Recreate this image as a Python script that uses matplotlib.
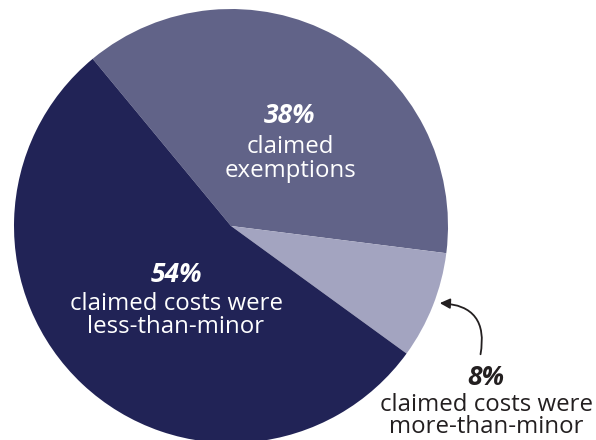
import matplotlib
matplotlib.use("Agg")
import matplotlib.pyplot as plt
from matplotlib.patches import FancyArrowPatch

# Data
categories = ["claimed exemptions", "claimed costs were more-than-minor", "claimed costs were less-than-minor"]
values = [38, 8, 54]
pct_labels = ["38%", "8%", "54%"]
colors = ["#616388", "#a3a4c0", "#212356"]

W, H = 596, 440
fig = plt.figure(figsize=(W / 100, H / 100), dpi=100)
ax = fig.add_axes([0, 0, 1, 1])

cx, cy, r = 231, H - 226, 217
ax.pie(values, colors=colors, startangle=129.6, counterclock=False,
       center=(cx, cy), radius=r, wedgeprops=dict(linewidth=0), frame=False)
ax.set_xlim(0, W)
ax.set_ylim(0, H)
ax.set_aspect("equal")
ax.axis("off")

fam = ["Open Sans", "DejaVu Sans"]
big = 19
small = 17.3

def block(x, y_pct, y_last, ls, pct, l1, l2, color):
    ax.text(x, H - y_pct, pct, ha="center", va="baseline", fontsize=big,
            fontweight="bold", fontstyle="italic", color=color, family=fam)
    ax.text(x, H - y_last, l1 + "\n" + l2, ha="center", va="baseline",
            multialignment="center", fontsize=small, linespacing=ls,
            color=color, family=fam)

block(290, 123, 177, 1.0, pct_labels[0], "claimed", "exemptions", "white")
block(176, 282, 333, 0.95, pct_labels[2], "claimed costs were", "less-than-minor", "white")
block(486, 385, 433, 0.9, pct_labels[1], "claimed costs were", "more-than-minor", "#231f20")

arrow = FancyArrowPatch((480, H - 357), (437, H - 303),
                        connectionstyle="arc3,rad=0.6",
                        arrowstyle="-|>,head_length=6,head_width=3",
                        color="#231f20", linewidth=1.3, mutation_scale=1)
ax.add_patch(arrow)

fig.savefig("out.png", dpi=100)
